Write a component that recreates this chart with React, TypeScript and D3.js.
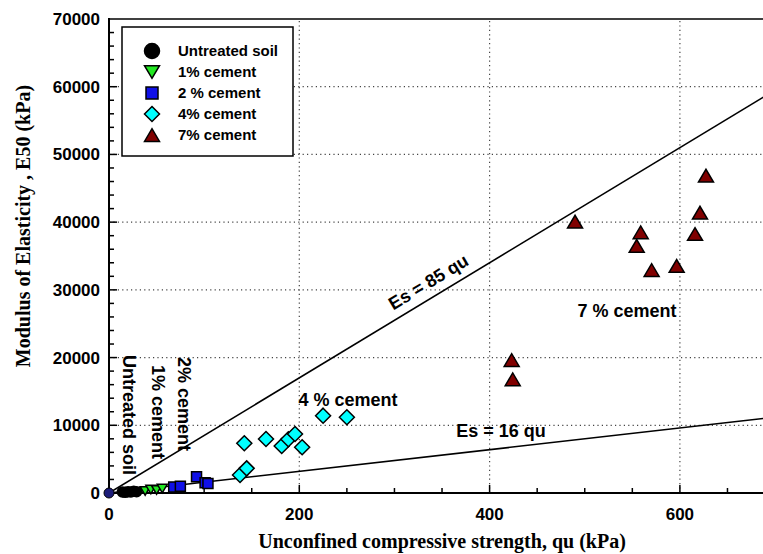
import * as d3 from "d3";

// series
const untreatedQu = [14, 17, 20, 23, 26, 29];
const untreatedE = [150, 100, 200, 150, 250, 200];
const cement1Qu = [38, 44, 50, 56];
const cement1E = [300, 500, 450, 650];
const cement2Qu = [68, 75, 92, 101, 104];
const cement2E = [900, 1000, 2400, 1500, 1400];
const cement4Qu = [137.7, 144.7, 142.2, 165, 181.5, 188.5, 195.5, 203, 225, 250];
const cement4E = [2660, 3640, 7340, 7975, 6940, 7930, 8710, 6750, 11420, 11180];
const cement7Qu = [423.2, 424.3, 489.8, 554.6, 558.8, 570.3, 596.6, 615.9, 621.1, 627.4];
const cement7E = [19640, 16790, 40070, 36480, 38500, 32930, 33530, 38250, 41400, 46860];

const xTicks = [0, 200, 400, 600];
const yTicks = [0, 10000, 20000, 30000, 40000, 50000, 60000, 70000];
const fitSlopes = [85, 16];

const legendItems = [
  { label: "Untreated soil", shape: "circle", fill: "#000000" },
  { label: "1% cement", shape: "down", fill: "#22e822" },
  { label: "2 % cement", shape: "square", fill: "#1010e8" },
  { label: "4% cement", shape: "diamond", fill: "#00ffff" },
  { label: "7% cement", shape: "up", fill: "#800000" },
];

const W = 763;
const H = 554;
const SANS = "'Liberation Sans', Arial, sans-serif";
const SERIF = "'Liberation Serif', 'Times New Roman', serif";

function markerPath(shape: string, s: number) {
  const h = s / 2;
  switch (shape) {
    case "down":
      return `M${-h},${-h * 0.85}L${h},${-h * 0.85}L0,${h * 0.85}Z`;
    case "up":
      return `M${-h},${h * 0.85}L${h},${h * 0.85}L0,${-h * 0.85}Z`;
    case "square":
      return `M${-h},${-h}H${h}V${h}H${-h}Z`;
    case "diamond":
      return `M0,${-h}L${h},0L0,${h}L${-h},0Z`;
    default:
      return d3.arc()({ innerRadius: 0, outerRadius: h, startAngle: 0, endAngle: 2 * Math.PI }) || "";
  }
}

export default function App() {
  const x = d3.scaleLinear().domain([0, 700]).range([109, 109 + 700 * 0.9515]);
  const y = d3.scaleLinear().domain([0, 70000]).range([493, 19]);
  const x0 = x(0);
  const y0 = y(0);
  const xEnd = x.range()[1];

  const minorX = d3.range(50, 700, 50).filter((v) => v % 200 !== 0);
  const minorY = d3.range(2000, 70000, 2000).filter((v) => v % 10000 !== 0);

  const series = [
    { qu: untreatedQu, e: untreatedE, shape: "circle", fill: "#000000", size: 10 },
    { qu: cement1Qu, e: cement1E, shape: "down", fill: "#22e822", size: 10 },
    { qu: cement2Qu, e: cement2E, shape: "square", fill: "#1010e8", size: 10 },
    { qu: cement4Qu, e: cement4E, shape: "diamond", fill: "#00ffff", size: 15 },
    { qu: cement7Qu, e: cement7E, shape: "up", fill: "#800000", size: 15 },
  ];

  const slope85 = (85 * (y(0) - y(1000))) / 1000 / (x(1) - x(0));
  const angle85 = (-Math.atan(slope85) * 180) / Math.PI;

  return (
    <svg
      width={W}
      height={H}
      style={{ position: "absolute", left: 0, top: 0, display: "block", background: "#fff" }}
    >
      <defs>
        <clipPath id="plot">
          <rect x={x0} y={y(70000)} width={xEnd - x0} height={y0 - y(70000)} />
        </clipPath>
      </defs>

      {/* grid */}
      <g stroke="#444" strokeWidth={1.2} strokeDasharray="1.2,3.2">
        {yTicks.filter((v) => v > 0 && v < 70000).map((v) => (
          <line key={"gy" + v} x1={x0} x2={xEnd} y1={y(v)} y2={y(v)} />
        ))}
        {xTicks.filter((v) => v > 0).map((v) => (
          <line key={"gx" + v} x1={x(v)} x2={x(v)} y1={y0} y2={y(70000)} />
        ))}
      </g>

      {/* fitted lines */}
      <g clipPath="url(#plot)" stroke="#000" strokeWidth={1.6}>
        {fitSlopes.map((k) => (
          <line key={k} x1={x(0)} y1={y(0)} x2={x(700)} y2={y(700 * k)} />
        ))}
      </g>

      {/* axes */}
      <g stroke="#000">
        <line x1={x0} x2={xEnd} y1={y0} y2={y0} strokeWidth={2} />
        <line x1={x0} x2={x0} y1={y0 + 1} y2={y(70000) - 1} strokeWidth={2} />
        <line x1={x0} x2={xEnd} y1={y(70000)} y2={y(70000)} strokeWidth={1.5} />
        {xTicks.filter((v) => v > 0).map((v) => (
          <line key={"tx" + v} x1={x(v)} x2={x(v)} y1={y0} y2={y0 - 8} strokeWidth={1.5} />
        ))}
        {minorX.map((v) => (
          <line key={"mx" + v} x1={x(v)} x2={x(v)} y1={y0} y2={y0 - 5} strokeWidth={1.5} />
        ))}
        {yTicks.filter((v) => v > 0 && v < 70000).map((v) => (
          <line key={"ty" + v} x1={x0} x2={x0 + 8} y1={y(v)} y2={y(v)} strokeWidth={1.5} />
        ))}
        {minorY.map((v) => (
          <line key={"my" + v} x1={x0} x2={x0 + 5} y1={y(v)} y2={y(v)} strokeWidth={1.5} />
        ))}
      </g>

      {/* tick labels */}
      <g fontFamily={SANS} fontWeight="bold" fontSize={17} fill="#000">
        {xTicks.map((v) => (
          <text key={"lx" + v} x={x(v)} y={520} textAnchor="middle">
            {v}
          </text>
        ))}
        {yTicks.map((v) => (
          <text key={"ly" + v} x={100} y={y(v) + 6} textAnchor="end">
            {v}
          </text>
        ))}
      </g>

      {/* axis titles */}
      <text
        x={442}
        y={548}
        textAnchor="middle"
        fontFamily={SERIF}
        fontWeight="bold"
        fontSize={20}
      >
        Unconfined compressive strength, qu (kPa)
      </text>
      <text
        transform={`translate(30,${226}) rotate(-90)`}
        textAnchor="middle"
        fontFamily={SERIF}
        fontWeight="bold"
        fontSize={20}
      >
        Modulus of Elasticity , E50 (kPa)
      </text>

      {/* points */}
      <circle cx={x(0)} cy={y(0)} r={5} fill="#1c1c78" stroke="#000" strokeWidth={1} />
      {series.map((s, si) => (
        <g key={si} fill={s.fill} stroke="#000" strokeWidth={1.5}>
          {s.qu.map((q, i) => (
            <path
              key={i}
              d={markerPath(s.shape, s.size)}
              transform={`translate(${x(q)},${y(s.e[i])})`}
            />
          ))}
        </g>
      ))}

      {/* annotations */}
      <g fontFamily={SANS} fontWeight="bold" fontSize={18} fill="#000">
        <text transform={`translate(${x(344)},${y(85 * 344)}) rotate(${angle85})`} y={-9} textAnchor="middle">
          Es = 85 qu
        </text>
        <text x={501} y={437} textAnchor="middle">
          Es = 16 qu
        </text>
        <text x={348} y={406} textAnchor="middle">
          4 % cement
        </text>
        <text x={627} y={317} textAnchor="middle">
          7 % cement
        </text>
        <text transform="translate(123,355) rotate(90)">Untreated soil</text>
        <text transform="translate(152,365) rotate(90)">1% cement</text>
        <text transform="translate(178,357) rotate(90)">2% cement</text>
      </g>

      {/* legend */}
      <g>
        <rect x={122} y={27} width={171} height={129} fill="#fff" stroke="#000" strokeWidth={1.5} />
        {legendItems.map((it, i) => {
          const cy = 51 + i * 21;
          return (
            <g key={it.label}>
              <path
                d={markerPath(it.shape, it.shape === "square" ? 12 : 15)}
                transform={`translate(152,${cy})`}
                fill={it.fill}
                stroke="#000"
                strokeWidth={1.5}
              />
              <text x={178} y={cy + 5} fontFamily={SANS} fontWeight="bold" fontSize={15}>
                {it.label}
              </text>
            </g>
          );
        })}
      </g>
    </svg>
  );
}
